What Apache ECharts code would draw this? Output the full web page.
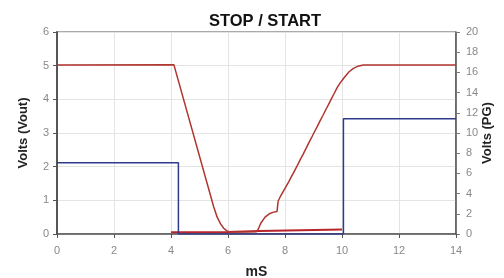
<!DOCTYPE html>
<html>
<head>
<meta charset="utf-8">
<script src="https://cdn.jsdelivr.net/npm/echarts@6/dist/echarts.min.js"></script>
<style>
  html, body { margin: 0; padding: 0; background: #fff; }
  #chart { width: 504px; height: 278px; }
</style>
</head>
<body>
<div id="chart"></div>
<script>
// 数据
var xTicks = [0, 2, 4, 6, 8, 10, 12, 14];
var leftTicks = [0, 1, 2, 3, 4, 5, 6];
var rightTicks = [0, 2, 4, 6, 8, 10, 12, 14, 16, 18, 20];

// Vout (left axis)
var voutData = [
    [0, 5.02], [4.1, 5.03], [5.5, 0.8], [5.62, 0.5], [5.74, 0.3], [5.85, 0.17], [5.95, 0.1], [6.05, 0.06],
    [7.0, 0.07], [7.06, 0.14], [7.15, 0.32], [7.3, 0.5], [7.45, 0.6], [7.6, 0.65], [7.72, 0.67],
    [7.76, 0.98], [7.80, 1.0], [7.83, 1.1],
    [7.90, 1.13], [7.93, 1.25], [8.00, 1.28], [8.03, 1.40],
    [8.10, 1.43], [8.13, 1.55], [8.20, 1.58], [8.23, 1.71],
    [8.30, 1.74], [8.33, 1.87], [8.40, 1.90], [8.43, 2.03],
    [8.50, 2.07], [8.53, 2.20], [8.60, 2.24], [8.63, 2.36],
    [8.70, 2.40], [8.73, 2.53], [8.80, 2.57], [8.83, 2.70],
    [8.90, 2.74], [8.93, 2.86], [9.00, 2.90], [9.03, 3.03],
    [9.10, 3.07], [9.13, 3.19], [9.20, 3.23], [9.23, 3.36],
    [9.30, 3.40], [9.33, 3.52], [9.40, 3.56], [9.43, 3.69],
    [9.50, 3.73], [9.53, 3.85], [9.60, 3.89], [9.63, 4.02],
    [9.70, 4.06], [9.73, 4.18], [9.80, 4.22], [9.83, 4.35],
    [9.90, 4.39], [9.93, 4.48], [10.0, 4.56],
    [10.1, 4.67], [10.25, 4.82], [10.4, 4.92], [10.55, 4.98], [10.75, 5.02], [14, 5.02]
];
// 底部的红线
var lowData = [[4.0, 0.05], [6.0, 0.06], [7.1, 0.09], [10.0, 0.13]];
// PG (right axis)
var pgData = [[0, 7.05], [4.26, 7.05], [4.26, 0], [10.05, 0], [10.05, 11.4], [14, 11.4]];

var chart = echarts.init(document.getElementById('chart'));

var labelStyle = { color: '#888', fontSize: 11, fontFamily: 'Liberation Sans' };
var nameStyle = { color: '#222', fontSize: 13, fontWeight: 'bold', fontFamily: 'Liberation Sans' };

var option = {
    animation: false,
    title: {
        text: 'STOP / START',
        left: 260,
        textAlign: 'center',
        top: 8,
        textStyle: { color: '#111', fontSize: 16.5, fontWeight: 'bold', fontFamily: 'Liberation Sans' }
    },
    grid: {
        left: 57, right: 48, top: 32, bottom: 44,
        outerBoundsMode: 'none',
        containLabel: false,
        show: true, borderColor: '#555', borderWidth: 1
    },
    xAxis: {
        type: 'value',
        min: xTicks[0],
        max: xTicks[xTicks.length - 1],
        interval: 2,
        name: 'mS',
        nameLocation: 'middle',
        nameGap: 31,
        nameTextStyle: { color: '#222', fontSize: 14, fontWeight: 'bold', fontFamily: 'Liberation Sans' },
        axisLine: { lineStyle: { color: '#555', width: 1.5 } },
        axisTick: { lineStyle: { color: '#555' }, length: 4 },
        axisLabel: { color: '#888', fontSize: 11, fontFamily: 'Liberation Sans', margin: 11 },
        splitLine: { lineStyle: { color: '#e4e4e4' } }
    },
    yAxis: [{
        type: 'value',
        min: leftTicks[0],
        max: leftTicks[leftTicks.length - 1],
        interval: 1,
        name: 'Volts (Vout)',
        nameLocation: 'middle',
        nameRotate: 90,
        nameGap: 27,
        nameTextStyle: nameStyle,
        axisLine: { show: true, lineStyle: { color: '#555', width: 2 } },
        axisTick: { show: true, lineStyle: { color: '#555' }, length: 4 },
        axisLabel: labelStyle,
        splitLine: { lineStyle: { color: '#e4e4e4' } }
    }, {
        type: 'value',
        position: 'right',
        min: rightTicks[0],
        max: rightTicks[rightTicks.length - 1],
        interval: 2,
        name: 'Volts (PG)',
        nameLocation: 'middle',
        nameRotate: 90,
        nameGap: 25,
        nameMoveOverlap: false,
        nameTextStyle: nameStyle,
        axisLine: { show: true, lineStyle: { color: '#555', width: 1.5 } },
        axisTick: { show: true, lineStyle: { color: '#777' }, length: 4 },
        axisLabel: { color: '#888', fontSize: 11, fontFamily: 'Liberation Sans', margin: 10 },
        splitLine: { show: false }
    }],
    series: [{
        name: 'Vout',
        type: 'line',
        yAxisIndex: 0,
        data: voutData,
        showSymbol: false,
        lineStyle: { color: '#b0352e', width: 1.5 },
        z: 3
    }, {
        name: 'low',
        type: 'line',
        yAxisIndex: 0,
        data: lowData,
        showSymbol: false,
        lineStyle: { color: '#b8242a', width: 2 },
        z: 2
    }, {
        name: 'PG',
        type: 'line',
        yAxisIndex: 1,
        data: pgData,
        showSymbol: false,
        lineStyle: { color: '#2e3a8c', width: 1.5 },
        z: 4
    }]
};

chart.setOption(option);
</script>
</body>
</html>
